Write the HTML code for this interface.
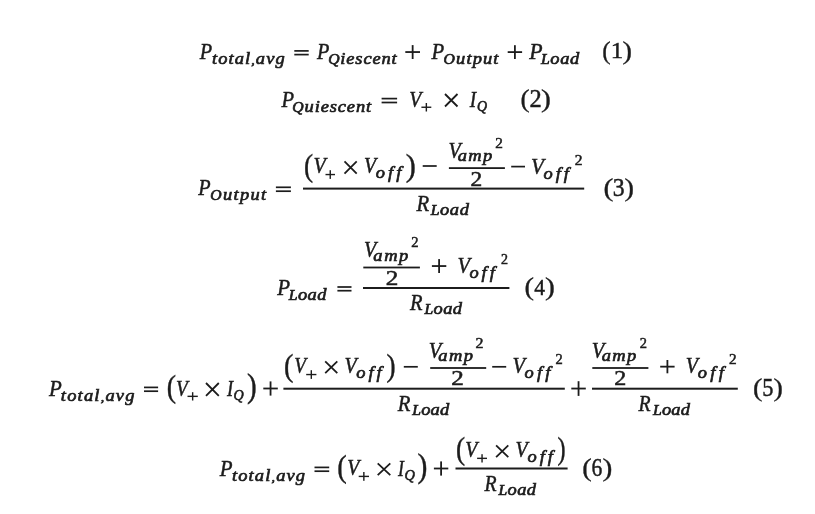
<!DOCTYPE html>
<html><head><meta charset="utf-8"><title>Power equations</title>
<style>html,body{margin:0;padding:0;background:#fff;width:815px;height:514px;overflow:hidden}svg{position:absolute;left:0;top:0}#w{position:absolute;left:0;top:0;width:815px;height:514px;will-change:transform}</style></head>
<body><div id="w"><svg width="815" height="514" viewBox="0 0 815 514">
<g fill="#1c1c1c" stroke="#1c1c1c" stroke-width="0.35" font-family="Liberation Serif" style="font-family:'Liberation Serif',serif">
<text x="0" y="0" font-style="italic" font-size="23.0" stroke-width="0.5" transform="translate(199.7 58.8) scale(0.88 1)">P</text>
<text x="0" y="0" font-style="italic" font-size="16.5" stroke-width="0.65" letter-spacing="0.98" transform="translate(211.9 64) scale(1.12 1)">total<tspan font-size="12.38">,</tspan>avg</text>
<rect x="294.3" y="50.05" width="14.4" height="1.7" stroke="none"/>
<rect x="294.3" y="53.75" width="14.4" height="1.7" stroke="none"/>
<text x="0" y="0" font-style="italic" font-size="23.0" stroke-width="0.5" transform="translate(317 58.8) scale(0.88 1)">P</text>
<text x="0" y="0" font-style="italic" font-size="16.5" stroke-width="0.65" letter-spacing="0.75" transform="translate(328.18 64) scale(1.12 1)"><tspan font-size="14.03">Q</tspan>iescent</text>
<rect x="405.3" y="51.15" width="14.7" height="1.8" stroke="none"/>
<rect x="411.75" y="45.1" width="1.8" height="13.9" stroke="none"/>
<text x="0" y="0" font-style="italic" font-size="23.0" stroke-width="0.5" transform="translate(431.4 58.8) scale(0.9 1)">P</text>
<text x="0" y="0" font-style="italic" font-size="16.5" stroke-width="0.65" letter-spacing="1.00" transform="translate(443.6 64) scale(1.12 1)"><tspan font-size="14.03">O</tspan>utput</text>
<rect x="507.7" y="51.2" width="14.4" height="1.8" stroke="none"/>
<rect x="514" y="45.2" width="1.8" height="13.8" stroke="none"/>
<text x="0" y="0" font-style="italic" font-size="23.0" stroke-width="0.5" transform="translate(529.2 58.8) scale(0.95 1)">P</text>
<text x="0" y="0" font-style="italic" font-size="16.5" stroke-width="0.65" letter-spacing="0.52" transform="translate(541 64) scale(1.12 1)"><tspan font-size="14.03">L</tspan>oad</text>
<text x="0" y="0" font-style="normal" font-size="30.0" stroke-width="0.4" transform="translate(602.16 59.02) scale(0.84 0.83)">(</text>
<text x="0" y="0" font-style="normal" font-size="24.0" stroke-width="0.45" transform="translate(610.81 58.4) scale(1.04 0.93)">1</text>
<text x="0" y="0" font-style="normal" font-size="30.0" stroke-width="0.4" transform="translate(622.45 59.02) scale(0.95 0.83)">)</text>
<text x="0" y="0" font-style="italic" font-size="23.0" stroke-width="0.5" transform="translate(281.6 106.5) scale(0.89 1)">P</text>
<text x="0" y="0" font-style="italic" font-size="16.5" stroke-width="0.65" letter-spacing="0.79" transform="translate(292.28 111.5) scale(1.12 1)"><tspan font-size="14.03">Q</tspan>uiescent</text>
<rect x="381.6" y="97.75" width="15.5" height="1.7" stroke="none"/>
<rect x="381.6" y="101.65" width="15.5" height="1.7" stroke="none"/>
<text x="0" y="0" font-style="italic" font-size="23.0" stroke-width="0.5" transform="translate(409.14 106.5) scale(0.86 1)">V</text>
<rect x="421.4" y="106.55" width="9.9" height="1.4" stroke="none"/>
<rect x="425.65" y="103" width="1.4" height="8.5" stroke="none"/>
<path d="M445 94L457.5 106.5M457.5 94L445 106.5" fill="none" stroke-width="1.8"/>
<text x="0" y="0" font-style="italic" font-size="23.0" stroke-width="0.5" transform="translate(469.8 106.5) scale(0.83 1)">I</text>
<text x="0" y="0" font-style="italic" font-size="14.5" stroke-width="0.6" transform="translate(476.94 110.8) scale(0.96 1)">Q</text>
<text x="0" y="0" font-style="normal" font-size="30.0" stroke-width="0.4" transform="translate(520.49 106.72) scale(0.91 0.83)">(</text>
<text x="0" y="0" font-style="normal" font-size="24.0" stroke-width="0.45" transform="translate(529.48 106.7) scale(1.02 1.01)">2</text>
<text x="0" y="0" font-style="normal" font-size="30.0" stroke-width="0.4" transform="translate(541.11 106.72) scale(0.99 0.83)">)</text>
<text x="0" y="0" font-style="italic" font-size="23.0" stroke-width="0.5" transform="translate(198.3 195.3) scale(0.88 1)">P</text>
<text x="0" y="0" font-style="italic" font-size="16.5" stroke-width="0.65" letter-spacing="1.18" transform="translate(210.3 200.4) scale(1.12 1)"><tspan font-size="14.03">O</tspan>utput</text>
<rect x="275.9" y="186.45" width="15" height="1.7" stroke="none"/>
<rect x="275.9" y="190.35" width="15" height="1.7" stroke="none"/>
<rect x="303" y="187.6" width="281.2" height="2" stroke="none"/>
<text x="0" y="0" font-style="normal" font-size="30.0" stroke-width="0.4" transform="translate(303.99 176.22) scale(0.91 1.08)">(</text>
<text x="0" y="0" font-style="italic" font-size="23.0" stroke-width="0.5" transform="translate(313.53 173.2) scale(0.87 1)">V</text>
<rect x="325.5" y="173.85" width="9.5" height="1.4" stroke="none"/>
<rect x="329.55" y="170.2" width="1.4" height="8.7" stroke="none"/>
<path d="M344.5 161.4L356.7 173.6M356.7 161.4L344.5 173.6" fill="none" stroke-width="1.8"/>
<text x="0" y="0" font-style="italic" font-size="23.0" stroke-width="0.5" transform="translate(363.94 173.4) scale(0.86 1)">V</text>
<text x="0" y="0" font-style="italic" font-size="16.5" stroke-width="0.65" letter-spacing="2.68" transform="translate(375.8 178.4) scale(1.12 1)">off</text>
<text x="0" y="0" font-style="normal" font-size="30.0" stroke-width="0.4" transform="translate(405.79 176.34) scale(1.01 1.08)">)</text>
<rect x="422.7" y="165.15" width="14" height="1.7" stroke="none"/>
<rect x="448.9" y="167.2" width="56" height="1.8" stroke="none"/>
<text x="0" y="0" font-style="italic" font-size="23.0" stroke-width="0.5" transform="translate(448.43 157.6) scale(0.87 1)">V</text>
<text x="0" y="0" font-style="italic" font-size="16.5" stroke-width="0.65" letter-spacing="1.27" transform="translate(457.7 161.4) scale(1.12 1)">amp</text>
<text x="0" y="0" font-style="normal" font-size="14.0" stroke-width="0.5" transform="translate(495.3 148.1) scale(1.09 1)">2</text>
<text x="0" y="0" font-style="normal" font-size="21.5" stroke-width="0.55" transform="translate(470.41 185.8) scale(1.09 1)">2</text>
<rect x="511.2" y="165.75" width="13.8" height="1.7" stroke="none"/>
<text x="0" y="0" font-style="italic" font-size="23.0" stroke-width="0.5" transform="translate(531.08 173.5) scale(0.92 1)">V</text>
<text x="0" y="0" font-style="italic" font-size="16.5" stroke-width="0.65" letter-spacing="2.54" transform="translate(543.6 178.5) scale(1.12 1)">off</text>
<text x="0" y="0" font-style="normal" font-size="14.0" stroke-width="0.5" transform="translate(574.7 164.5) scale(1.11 1)">2</text>
<text x="0" y="0" font-style="italic" font-size="23.0" stroke-width="0.5" transform="translate(416.4 211) scale(0.9 1)">R</text>
<text x="0" y="0" font-style="italic" font-size="16.5" stroke-width="0.65" letter-spacing="0.52" transform="translate(430.7 214.8) scale(1.12 1)"><tspan font-size="14.03">L</tspan>oad</text>
<text x="0" y="0" font-style="normal" font-size="30.0" stroke-width="0.4" transform="translate(603.41 195.77) scale(0.99 0.84)">(</text>
<text x="0" y="0" font-style="normal" font-size="24.0" stroke-width="0.45" transform="translate(612.81 195.9) scale(0.99 1.03)">3</text>
<text x="0" y="0" font-style="normal" font-size="30.0" stroke-width="0.4" transform="translate(624.45 195.77) scale(0.95 0.84)">)</text>
<text x="0" y="0" font-style="italic" font-size="23.0" stroke-width="0.5" transform="translate(277.3 294.5) scale(0.91 1)">P</text>
<text x="0" y="0" font-style="italic" font-size="16.5" stroke-width="0.65" letter-spacing="0.37" transform="translate(288.8 299.5) scale(1.12 1)"><tspan font-size="14.03">L</tspan>oad</text>
<rect x="337.4" y="286.15" width="14.1" height="1.7" stroke="none"/>
<rect x="337.4" y="289.85" width="14.1" height="1.7" stroke="none"/>
<rect x="363" y="287" width="146.4" height="2" stroke="none"/>
<rect x="363.3" y="266.6" width="56.6" height="1.8" stroke="none"/>
<text x="0" y="0" font-style="italic" font-size="23.0" stroke-width="0.5" transform="translate(364.03 257.2) scale(0.87 1)">V</text>
<text x="0" y="0" font-style="italic" font-size="16.5" stroke-width="0.65" letter-spacing="1.45" transform="translate(373.3 261) scale(1.12 1)">amp</text>
<text x="0" y="0" font-style="normal" font-size="14.0" stroke-width="0.5" transform="translate(411.3 247.3) scale(1.04 1)">2</text>
<text x="0" y="0" font-style="normal" font-size="21.5" stroke-width="0.55" transform="translate(385.63 284.8) scale(1.17 1)">2</text>
<rect x="431.9" y="265.15" width="14.4" height="1.8" stroke="none"/>
<rect x="438.2" y="259.1" width="1.8" height="13.9" stroke="none"/>
<text x="0" y="0" font-style="italic" font-size="23.0" stroke-width="0.5" transform="translate(457.61 272.8) scale(0.89 1)">V</text>
<text x="0" y="0" font-style="italic" font-size="16.5" stroke-width="0.65" letter-spacing="2.63" transform="translate(469.4 277.8) scale(1.12 1)">off</text>
<text x="0" y="0" font-style="normal" font-size="14.0" stroke-width="0.5" transform="translate(501 264.2) scale(1 1)">2</text>
<text x="0" y="0" font-style="italic" font-size="23.0" stroke-width="0.5" transform="translate(410.1 310.1) scale(0.89 1)">R</text>
<text x="0" y="0" font-style="italic" font-size="16.5" stroke-width="0.65" letter-spacing="0.34" transform="translate(424.5 313.8) scale(1.12 1)"><tspan font-size="14.03">L</tspan>oad</text>
<text x="0" y="0" font-style="normal" font-size="30.0" stroke-width="0.4" transform="translate(524.45 295.02) scale(0.95 0.83)">(</text>
<text x="0" y="0" font-style="normal" font-size="24.0" stroke-width="0.45" transform="translate(534.2 294.7) scale(0.9 0.99)">4</text>
<text x="0" y="0" font-style="normal" font-size="30.0" stroke-width="0.4" transform="translate(545.11 295.02) scale(0.99 0.83)">)</text>
<text x="0" y="0" font-style="italic" font-size="23.0" stroke-width="0.5" transform="translate(49 395.8) scale(0.91 1)">P</text>
<text x="0" y="0" font-style="italic" font-size="16.5" stroke-width="0.65" letter-spacing="1.08" transform="translate(60.8 400.7) scale(1.12 1)">total<tspan font-size="12.38">,</tspan>avg</text>
<rect x="144" y="386.55" width="14.1" height="1.7" stroke="none"/>
<rect x="144" y="390.35" width="14.1" height="1.7" stroke="none"/>
<text x="0" y="0" font-style="normal" font-size="30.0" stroke-width="0.4" transform="translate(166.67 396.54) scale(0.93 1.08)">(</text>
<text x="0" y="0" font-style="italic" font-size="23.0" stroke-width="0.5" transform="translate(176.06 395.5) scale(0.84 1)">V</text>
<rect x="187.5" y="395.65" width="10.3" height="1.4" stroke="none"/>
<rect x="191.95" y="392.2" width="1.4" height="8.3" stroke="none"/>
<path d="M206 383L218.8 395.9M218.8 383L206 395.9" fill="none" stroke-width="1.8"/>
<text x="0" y="0" font-style="italic" font-size="23.0" stroke-width="0.5" transform="translate(227 395.6) scale(0.8 1)">I</text>
<text x="0" y="0" font-style="italic" font-size="14.5" stroke-width="0.6" transform="translate(233.53 400) scale(0.97 1)">Q</text>
<text x="0" y="0" font-style="normal" font-size="30.0" stroke-width="0.4" transform="translate(246.93 396.85) scale(0.97 1.09)">)</text>
<rect x="263.3" y="387.6" width="14.5" height="1.8" stroke="none"/>
<rect x="269.65" y="381.4" width="1.8" height="14.2" stroke="none"/>
<rect x="283.4" y="387.7" width="281.4" height="2" stroke="none"/>
<text x="0" y="0" font-style="normal" font-size="30.0" stroke-width="0.4" transform="translate(284.06 376.22) scale(0.94 1.08)">(</text>
<text x="0" y="0" font-style="italic" font-size="23.0" stroke-width="0.5" transform="translate(294.26 373.2) scale(0.84 1)">V</text>
<rect x="306.2" y="373.85" width="10.2" height="1.4" stroke="none"/>
<rect x="310.6" y="370.2" width="1.4" height="8.7" stroke="none"/>
<path d="M325.2 361.4L337.3 373.2M337.3 361.4L325.2 373.2" fill="none" stroke-width="1.8"/>
<text x="0" y="0" font-style="italic" font-size="23.0" stroke-width="0.5" transform="translate(344.43 373.2) scale(0.87 1)">V</text>
<text x="0" y="0" font-style="italic" font-size="16.5" stroke-width="0.65" letter-spacing="2.59" transform="translate(356.3 378.3) scale(1.12 1)">off</text>
<text x="0" y="0" font-style="normal" font-size="30.0" stroke-width="0.4" transform="translate(386.59 376.22) scale(0.91 1.08)">)</text>
<rect x="403.8" y="365.95" width="14" height="1.7" stroke="none"/>
<rect x="430.2" y="367.1" width="56" height="1.8" stroke="none"/>
<text x="0" y="0" font-style="italic" font-size="23.0" stroke-width="0.5" transform="translate(428.71 358) scale(0.89 1)">V</text>
<text x="0" y="0" font-style="italic" font-size="16.5" stroke-width="0.65" letter-spacing="1.27" transform="translate(438.3 361.4) scale(1.12 1)">amp</text>
<text x="0" y="0" font-style="normal" font-size="14.0" stroke-width="0.5" transform="translate(475.6 348.1) scale(1.14 1)">2</text>
<text x="0" y="0" font-style="normal" font-size="21.5" stroke-width="0.55" transform="translate(451.13 385.4) scale(1.17 1)">2</text>
<rect x="492.2" y="365.95" width="14" height="1.7" stroke="none"/>
<text x="0" y="0" font-style="italic" font-size="23.0" stroke-width="0.5" transform="translate(512.51 373.2) scale(0.89 1)">V</text>
<text x="0" y="0" font-style="italic" font-size="16.5" stroke-width="0.65" letter-spacing="2.90" transform="translate(524.4 378.3) scale(1.12 1)">off</text>
<text x="0" y="0" font-style="normal" font-size="14.0" stroke-width="0.5" transform="translate(555.6 364.4) scale(1.03 1)">2</text>
<text x="0" y="0" font-style="italic" font-size="23.0" stroke-width="0.5" transform="translate(397.7 410.6) scale(0.9 1)">R</text>
<text x="0" y="0" font-style="italic" font-size="16.5" stroke-width="0.65" letter-spacing="0.19" transform="translate(412.2 414.6) scale(1.12 1)"><tspan font-size="14.03">L</tspan>oad</text>
<rect x="571.3" y="387.65" width="14.5" height="1.8" stroke="none"/>
<rect x="577.65" y="381.2" width="1.8" height="14.7" stroke="none"/>
<rect x="592" y="387.7" width="145.8" height="2" stroke="none"/>
<rect x="592.3" y="367.1" width="56.1" height="1.8" stroke="none"/>
<text x="0" y="0" font-style="italic" font-size="23.0" stroke-width="0.5" transform="translate(591.71 357.6) scale(0.89 1)">V</text>
<text x="0" y="0" font-style="italic" font-size="16.5" stroke-width="0.65" letter-spacing="1.27" transform="translate(601.7 361.4) scale(1.12 1)">amp</text>
<text x="0" y="0" font-style="normal" font-size="14.0" stroke-width="0.5" transform="translate(639.7 348.1) scale(1.03 1)">2</text>
<text x="0" y="0" font-style="normal" font-size="21.5" stroke-width="0.55" transform="translate(614.18 385.3) scale(1.12 1)">2</text>
<rect x="660.2" y="365.75" width="14.4" height="1.8" stroke="none"/>
<rect x="666.5" y="360" width="1.8" height="13.3" stroke="none"/>
<text x="0" y="0" font-style="italic" font-size="23.0" stroke-width="0.5" transform="translate(685.83 373.2) scale(0.87 1)">V</text>
<text x="0" y="0" font-style="italic" font-size="16.5" stroke-width="0.65" letter-spacing="2.90" transform="translate(697.8 378.3) scale(1.12 1)">off</text>
<text x="0" y="0" font-style="normal" font-size="14.0" stroke-width="0.5" transform="translate(729 364.4) scale(1.09 1)">2</text>
<text x="0" y="0" font-style="italic" font-size="23.0" stroke-width="0.5" transform="translate(638.5 410.6) scale(0.86 1)">R</text>
<text x="0" y="0" font-style="italic" font-size="16.5" stroke-width="0.65" letter-spacing="0.22" transform="translate(652.9 414.6) scale(1.12 1)"><tspan font-size="14.03">L</tspan>oad</text>
<text x="0" y="0" font-style="normal" font-size="30.0" stroke-width="0.4" transform="translate(752.96 395.7) scale(0.94 0.85)">(</text>
<text x="0" y="0" font-style="normal" font-size="24.0" stroke-width="0.45" transform="translate(762.37 396) scale(0.93 1.09)">5</text>
<text x="0" y="0" font-style="normal" font-size="30.0" stroke-width="0.4" transform="translate(773.56 395.7) scale(0.94 0.85)">)</text>
<text x="0" y="0" font-style="italic" font-size="23.0" stroke-width="0.5" transform="translate(219.7 475.8) scale(0.91 1)">P</text>
<text x="0" y="0" font-style="italic" font-size="16.5" stroke-width="0.65" letter-spacing="1.03" transform="translate(231.9 480.5) scale(1.12 1)">total<tspan font-size="12.38">,</tspan>avg</text>
<rect x="314.5" y="466.55" width="14.7" height="1.7" stroke="none"/>
<rect x="314.5" y="470.35" width="14.7" height="1.7" stroke="none"/>
<text x="0" y="0" font-style="normal" font-size="30.0" stroke-width="0.4" transform="translate(337.25 476.99) scale(0.95 1.08)">(</text>
<text x="0" y="0" font-style="italic" font-size="23.0" stroke-width="0.5" transform="translate(347.24 475.1) scale(0.86 1)">V</text>
<rect x="358.7" y="475.7" width="10.3" height="1.4" stroke="none"/>
<rect x="363.15" y="472" width="1.4" height="8.8" stroke="none"/>
<path d="M377.7 463.3L390.3 475.1M390.3 463.3L377.7 475.1" fill="none" stroke-width="1.8"/>
<text x="0" y="0" font-style="italic" font-size="23.0" stroke-width="0.5" transform="translate(398 475.5) scale(0.77 1)">I</text>
<text x="0" y="0" font-style="italic" font-size="14.5" stroke-width="0.6" transform="translate(404.61 480) scale(0.99 1)">Q</text>
<text x="0" y="0" font-style="normal" font-size="30.0" stroke-width="0.4" transform="translate(417.51 476.92) scale(0.99 1.1)">)</text>
<rect x="433.9" y="467.6" width="14.4" height="1.8" stroke="none"/>
<rect x="440.2" y="461.4" width="1.8" height="14.2" stroke="none"/>
<rect x="455.5" y="467.5" width="112.1" height="2" stroke="none"/>
<text x="0" y="0" font-style="normal" font-size="30.0" stroke-width="0.4" transform="translate(455.99 458.78) scale(0.91 1.07)">(</text>
<text x="0" y="0" font-style="italic" font-size="23.0" stroke-width="0.5" transform="translate(465.24 457.2) scale(0.86 1)">V</text>
<rect x="477.1" y="457.65" width="9.9" height="1.4" stroke="none"/>
<rect x="481.35" y="454.2" width="1.4" height="8.3" stroke="none"/>
<path d="M496.1 445.4L508.3 457.2M508.3 445.4L496.1 457.2" fill="none" stroke-width="1.8"/>
<text x="0" y="0" font-style="italic" font-size="23.0" stroke-width="0.5" transform="translate(515.54 457.2) scale(0.86 1)">V</text>
<text x="0" y="0" font-style="italic" font-size="16.5" stroke-width="0.65" letter-spacing="2.72" transform="translate(527.4 462.2) scale(1.12 1)">off</text>
<text x="0" y="0" font-style="normal" font-size="30.0" stroke-width="0.4" transform="translate(557.39 458.78) scale(0.81 1.07)">)</text>
<text x="0" y="0" font-style="italic" font-size="23.0" stroke-width="0.5" transform="translate(484.5 490.5) scale(0.86 1)">R</text>
<text x="0" y="0" font-style="italic" font-size="16.5" stroke-width="0.65" letter-spacing="0.34" transform="translate(498.5 494.8) scale(1.12 1)"><tspan font-size="14.03">L</tspan>oad</text>
<text x="0" y="0" font-style="normal" font-size="30.0" stroke-width="0.4" transform="translate(582.15 475.72) scale(0.95 0.83)">(</text>
<text x="0" y="0" font-style="normal" font-size="24.0" stroke-width="0.45" transform="translate(591.6 475.7) scale(0.9 1.05)">6</text>
<text x="0" y="0" font-style="normal" font-size="30.0" stroke-width="0.4" transform="translate(602.51 475.72) scale(0.99 0.83)">)</text>
</g></svg></div></body></html>
